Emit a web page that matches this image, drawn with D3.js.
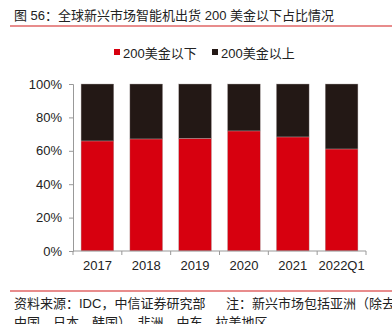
<!DOCTYPE html>
<html>
<head>
<meta charset="utf-8">
<script src="https://cdn.jsdelivr.net/npm/d3@7"></script>
<style>
  body { margin: 0; background: #fff; }
  svg text { font-family: "Liberation Sans", "Noto Sans CJK SC", sans-serif; }
</style>
</head>
<body>
<div id="chart"></div>
<script>
'use strict';

const categories = ['2017', '2018', '2019', '2020', '2021', '2022Q1'];
const below200 = [0.659, 0.671, 0.675, 0.719, 0.683, 0.611];
const above200 = below200.map(v => 1 - v);
const yTicks = [0, 0.2, 0.4, 0.6, 0.8, 1];
const seriesNames = ['200美金以下', '200美金以上'];
const colors = ['#d7000f', '#231815'];

const width = 392, height = 324;
const svg = d3.select('#chart').append('svg')
  .attr('width', width).attr('height', height);

// title + rule
svg.append('text')
  .attr('x', 14).attr('y', 20)
  .attr('font-size', 13).attr('fill', '#222')
  .text('图 56：全球新兴市场智能机出货 200 美金以下占比情况');
svg.append('line')
  .attr('x1', 10).attr('x2', width).attr('y1', 26).attr('y2', 26)
  .attr('stroke', '#e06666').attr('stroke-width', 1.5);

// legend
const legend = svg.append('g');
const legendX = [114, 212];
seriesNames.forEach((name, i) => {
  legend.append('rect')
    .attr('x', legendX[i]).attr('y', 49).attr('width', 6).attr('height', 6)
    .attr('fill', colors[i]);
  legend.append('text')
    .attr('x', legendX[i] + 9).attr('y', 58)
    .attr('font-size', 13).attr('fill', '#222')
    .text(name);
});

const x = d3.scaleBand().domain(categories).range([73, 366]).paddingInner(0.33).paddingOuter(0.165);
const y = d3.scaleLinear().domain([0, 1]).range([251, 84]);

// stacked bars
const rows = categories.map((c, i) => ({cat: c, below: below200[i], above: above200[i]}));
const stacked = d3.stack().keys(['below', 'above'])(rows);
svg.append('g').selectAll('g')
  .data(stacked).join('g')
    .attr('fill', (d, i) => colors[i])
  .selectAll('rect')
  .data(d => d).join('rect')
    .attr('x', d => x(d.data.cat))
    .attr('width', x.bandwidth())
    .attr('y', d => y(d[1]))
    .attr('height', d => y(d[0]) - y(d[1]))
    .attr('stroke', '#b0a8a8').attr('stroke-width', 0.4);

// y axis
const yAxis = svg.append('g')
  .attr('transform', 'translate(73,0)')
  .call(d3.axisLeft(y).tickValues(yTicks).tickFormat(d3.format('.0%')).tickSize(4).tickPadding(7));
yAxis.select('.domain').attr('stroke', '#999');
yAxis.selectAll('.tick line').attr('stroke', '#999');
yAxis.selectAll('text').attr('font-size', 13).attr('fill', '#222')
  .attr('font-family', '"Liberation Sans", sans-serif');

// x axis: ticks between bands
const xAxis = svg.append('g').attr('transform', 'translate(0,251)');
xAxis.append('line').attr('x1', 73).attr('x2', 366).attr('stroke', '#999');
const step = x.step();
const bounds = d3.range(categories.length + 1).map(i => 73 + i * (293 / categories.length));
xAxis.selectAll('line.tk').data(bounds).join('line')
  .attr('class', 'tk')
  .attr('x1', d => d).attr('x2', d => d).attr('y1', 0).attr('y2', 4)
  .attr('stroke', '#999');
xAxis.selectAll('text').data(categories).join('text')
  .attr('x', d => x(d) + x.bandwidth() / 2).attr('y', 19)
  .attr('text-anchor', 'middle').attr('font-size', 13).attr('fill', '#222')
  .text(d => d);

// source footer
svg.append('line')
  .attr('x1', 10).attr('x2', width).attr('y1', 291).attr('y2', 291)
  .attr('stroke', '#e06666').attr('stroke-width', 1.5);
svg.append('text').attr('x', 14).attr('y', 308)
  .attr('font-size', 13).attr('fill', '#222')
  .text('资料来源：IDC，中信证券研究部');
svg.append('text').attr('x', 226).attr('y', 308)
  .attr('font-size', 13).attr('fill', '#222')
  .text('注：新兴市场包括亚洲（除去');
svg.append('text').attr('x', 14).attr('y', 327)
  .attr('font-size', 13).attr('fill', '#222')
  .text('中国、日本、韩国）、非洲、中东、拉美地区');
</script>
</body>
</html>
